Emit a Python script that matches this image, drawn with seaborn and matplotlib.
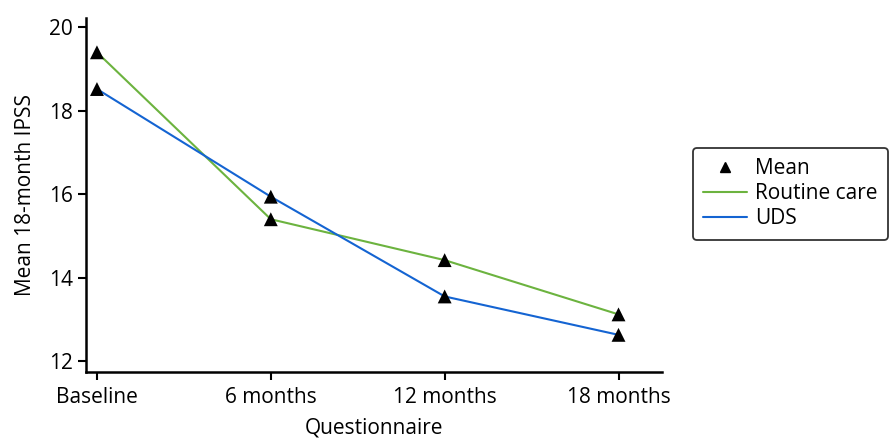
import matplotlib
matplotlib.use("Agg")
import matplotlib.pyplot as plt
from matplotlib.lines import Line2D
import seaborn as sns
import pandas as pd

categories = ["Baseline", "6 months", "12 months", "18 months"]
routine_care = [19.40, 15.40, 14.42, 13.12]
uds = [18.52, 15.94, 13.55, 12.63]

sns.set_style("ticks")
plt.rcParams['font.family'] = ['Open Sans', 'DejaVu Sans']
plt.rcParams['text.color'] = 'black'
plt.rcParams['axes.labelcolor'] = 'black'

df = pd.DataFrame({
    "x": list(range(len(categories))) * 2,
    "y": routine_care + uds,
    "group": ["Routine care"] * 4 + ["UDS"] * 4,
})

green = "#6CB33F"
blue = "#1464D2"
fs = 15

fig = plt.figure(figsize=(8.93, 4.41), dpi=100)
ax = fig.add_axes([0.0963, 0.1565, 0.6450, 0.8025])

sns.lineplot(data=df, x="x", y="y", hue="group", palette={"Routine care": green, "UDS": blue},
             linewidth=1.5, ax=ax, legend=False)
sns.scatterplot(data=df, x="x", y="y", marker="^", color="black", s=100, edgecolor="none",
                ax=ax, legend=False, zorder=5)

ax.set_xlim(-0.063, 3.25)
ax.set_ylim(11.74, 20.22)
ax.set_xticks(range(len(categories)))
ax.set_xticklabels(categories)
ax.set_yticks([12, 14, 16, 18, 20])
ax.tick_params(axis="both", labelsize=fs, length=6, width=1.5, color="black", labelcolor="black")
ax.tick_params(axis="x", pad=5)
for s in ["left", "bottom"]:
    ax.spines[s].set_linewidth(1.8)
    ax.spines[s].set_color("black")
sns.despine(ax=ax)
ax.set_xlabel("Questionnaire", fontsize=fs, color="black", labelpad=7)
ax.set_ylabel("Mean 18-month IPSS", fontsize=fs, color="black", labelpad=9)

handles = [
    Line2D([], [], marker="^", color="black", linestyle="none", markersize=7),
    Line2D([], [], color=green, linewidth=1.5),
    Line2D([], [], color=blue, linewidth=1.5),
]
leg = fig.legend(handles, ["Mean", "Routine care", "UDS"], loc="center left",
                 bbox_to_anchor=(0.776, 0.561), fontsize=fs, frameon=True,
                 fancybox=True, handlelength=2.1, handletextpad=0.4,
                 labelspacing=0.2, borderpad=0.5, borderaxespad=0)
leg.get_frame().set_edgecolor("black")
leg.get_frame().set_linewidth(1.3)
for t in leg.get_texts():
    t.set_color("black")

fig.savefig("out.png", dpi=100)
